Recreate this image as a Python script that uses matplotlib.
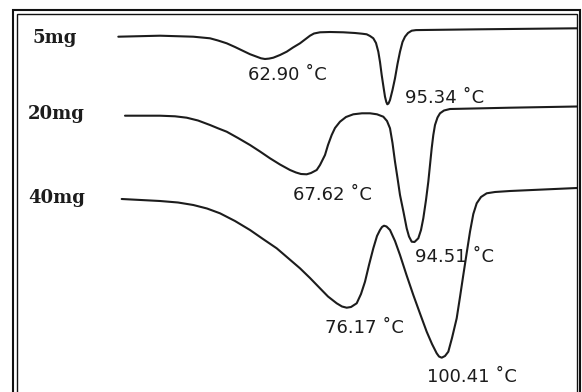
"""DSC thermograms of three sample masses, redrawn as stacked curves."""

import matplotlib
matplotlib.use("Agg")
import matplotlib.pyplot as plt
from matplotlib.patches import Rectangle


# sample names and their peak labels
samples = ["5mg", "20mg", "40mg"]
peak_labels = [
    ["62.90 \u02daC", "95.34 \u02daC"],
    ["67.62 \u02daC", "94.51 \u02daC"],
    ["76.17 \u02daC", "100.41 \u02daC"],
]

# temperature (deg C) and heat flow relative to each baseline (a.u.)
temp_5mg = [25.08, 35.92, 44.58, 48.92, 51.0, 53.26, 55.42, 57.58, 59.32, 61.06, 62.18,
            63.22, 64.26, 65.38, 67.12, 68.86, 70.5, 72.32, 73.62, 74.92, 75.96, 77.52,
            80.12, 83.58, 86.62, 88.44, 89.66, 90.52, 91.38, 92.08, 92.68, 93.12, 93.56,
            94.03, 94.42, 94.76, 95.02, 95.33, 95.72, 96.37, 97.02, 97.67, 98.32, 98.97,
            99.62, 100.4, 101.36, 102.48, 104.38, 119.12, 144.34]
flow_5mg = [0.0, 0.1, 0.0, -0.16, -0.38, -0.66, -1.03, -1.43, -1.75, -2.0, -2.16,
            -2.23, -2.19, -2.1, -1.83, -1.5, -1.08, -0.66, -0.28, 0.1, 0.32, 0.44,
            0.47, 0.44, 0.37, 0.3, 0.24, 0.07, -0.16, -0.63, -1.5, -2.53, -3.83,
            -5.03, -6.0, -6.53, -6.76, -6.68, -6.33, -5.33, -4.16, -2.73, -1.5, -0.53,
            0.0, 0.37, 0.6, 0.66, 0.67, 0.74, 0.84]

temp_20mg = [26.82, 35.92, 39.82, 42.86, 45.8, 48.92, 51.0, 53.26, 56.2, 59.32, 61.92,
             64.52, 67.12, 69.72, 71.28, 72.58, 74.06, 75.18, 76.66, 77.52, 78.82, 79.6,
             80.56, 81.42, 82.72, 84.28, 86.18, 88.44, 90.52, 92.34, 93.98, 94.94, 95.72,
             96.37, 97.02, 97.67, 98.32, 99.23, 100.06, 100.66, 101.36, 102.09, 103.08,
             103.78, 104.38, 105.08, 105.68, 106.12, 106.56, 106.98, 107.42, 108.07,
             108.72, 109.76, 111.32, 126.92, 144.34]
flow_20mg = [0.0, 0.0, -0.06, -0.2, -0.48, -0.93, -1.26, -1.6, -2.23, -2.93, -3.58,
             -4.26, -4.88, -5.43, -5.68, -5.83, -5.86, -5.73, -5.43, -4.93, -3.93, -2.93,
             -1.93, -1.23, -0.6, -0.13, 0.14, 0.24, 0.24, 0.14, -0.1, -0.53, -1.26,
             -2.73, -4.6, -6.23, -7.93, -9.63, -11.26, -12.08, -12.6, -12.63, -12.26,
             -11.43, -10.26, -8.43, -6.6, -4.93, -3.26, -1.93, -0.93, -0.18,
             0.24, 0.52, 0.67, 0.8, 0.92]

temp_40mg = [25.96, 35.92, 40.6, 44.58, 48.14, 51.52, 55.42, 59.32, 62.7, 66.26, 69.2,
             72.32, 74.92, 77.52, 79.6, 81.86, 83.24, 84.46, 85.58, 87.06, 88.18, 89.22,
             90.26, 91.38, 92.34, 93.12, 93.64, 94.16, 94.81, 95.72, 97.02, 98.32, 100.01,
             101.78, 103.52, 105.26, 106.64, 107.86, 108.46, 109.16, 110.02, 110.88,
             111.84, 113.06, 113.92, 114.78, 115.66, 116.52, 117.38, 118.26, 119.38,
             120.86, 123.02, 126.92, 144.34]
flow_40mg = [0.0, -0.2, -0.35, -0.6, -0.95, -1.43, -2.2, -3.1, -4.0, -4.93, -5.9,
             -6.93, -7.9, -8.93, -9.75, -10.43, -10.75, -10.87, -10.8, -10.43, -9.5, -8.27,
             -6.6, -4.93, -3.7, -3.1, -2.8, -2.67, -2.75, -3.1, -4.2, -5.6, -7.6,
             -9.6, -11.45, -13.27, -14.5, -15.43, -15.75, -15.87, -15.7, -15.27,
             -13.9, -11.93, -9.8, -7.6, -5.4, -3.27, -1.5, -0.43, 0.2,
             0.57, 0.7, 0.8, 1.1]

temps = [temp_5mg, temp_20mg, temp_40mg]
flows = [flow_5mg, flow_20mg, flow_40mg]

# layout: vertical shift of each curve and where the texts sit
offsets = [0.0, -7.9, -16.23]
name_pos = [(2.9, -0.13), (1.6, -7.73), (1.6, -16.13)]
label_pos = [
    [(58.8, -3.83), (99.6, -6.13)],
    [(70.5, -15.83), (102.2, -22.03)],
    [(78.8, -29.13), (105.3, -34.03)],
]

ink = "#1c1c1c"

fig = plt.figure(figsize=(5.82, 3.92), dpi=100)
ax = fig.add_axes([0, 0, 1, 1])
ax.set_xlim(-5.68, 145.64)
ax.set_ylim(-35.53, 3.67)
ax.axis("off")

for i, name in enumerate(samples):
    ys = [v + offsets[i] for v in flows[i]]
    ax.plot(temps[i], ys, color=ink, lw=1.5, solid_joinstyle="round",
            solid_capstyle="round")
    nx, ny = name_pos[i]
    ax.text(nx, ny, name, family="DejaVu Serif", weight="bold", fontsize=13,
            color=ink, ha="left", va="center")
    for text, (lx, ly) in zip(peak_labels[i], label_pos[i]):
        ax.text(lx, ly, text, family="DejaVu Sans", fontsize=13, color=ink,
                ha="left", va="center")

# double frame around the picture (bottom edge is cut off)
W, H = 582, 392
fig.add_artist(Rectangle((13 / W, -0.05), (580 - 13) / W, 1.05 - 10 / H,
                         transform=fig.transFigure, fill=False, ec="#111111", lw=1.5))
fig.add_artist(Rectangle((17 / W, -0.05), (577 - 17) / W, 1.05 - 14 / H,
                         transform=fig.transFigure, fill=False, ec="#111111", lw=1.0))

fig.savefig("out.png", dpi=100, facecolor="white")
